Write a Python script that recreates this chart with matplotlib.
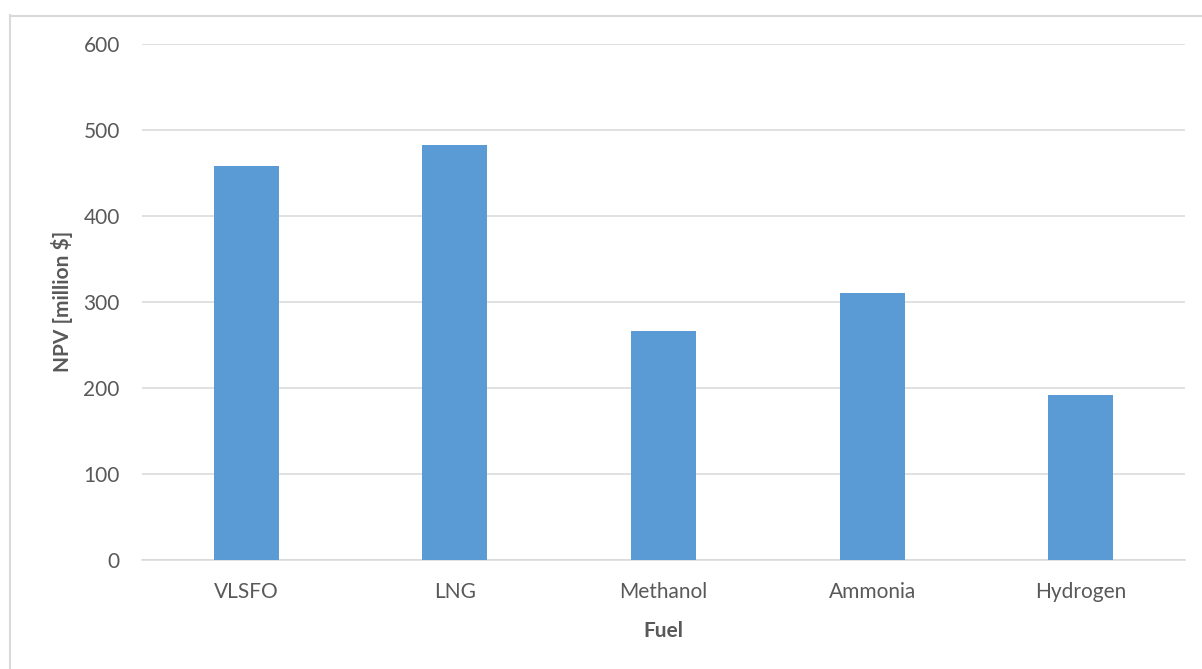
import matplotlib.pyplot as plt
from matplotlib.lines import Line2D

fuels = ["VLSFO", "LNG", "Methanol", "Ammonia", "Hydrogen"]
npv = [458, 482, 266, 310, 191]
yticks = [0, 100, 200, 300, 400, 500, 600]

plt.rcParams['font.family'] = ['Lato', 'DejaVu Sans']

W, H = 1202, 669
fig = plt.figure(figsize=(W / 100, H / 100), dpi=100)

# chart frame, only top and left edges show
grey = "#d9d9d9"
fig.add_artist(Line2D([10.5 / W, 10.5 / W], [0, 1 - 15 / H], color=grey, lw=1.5))
fig.add_artist(Line2D([10 / W, 1], [1 - 15.5 / H, 1 - 15.5 / H], color=grey, lw=1.5))

ax = fig.add_axes([142 / W, 1 - 559.5 / H, (1185 - 142) / W, (559.5 - 44) / H])
ax.bar(range(len(fuels)), npv, width=0.312, color="#5b9bd5", zorder=3)

ax.set_xlim(-0.5, len(fuels) - 0.5)
ax.set_ylim(0, 600)
ax.set_yticks(yticks)
ax.set_xticks(range(len(fuels)))
ax.set_xticklabels(fuels)
ax.grid(axis="y", color=grey, lw=1.1, zorder=0)
for s in ["top", "right", "left"]:
    ax.spines[s].set_visible(False)
ax.spines["bottom"].set_color(grey)
ax.spines["bottom"].set_linewidth(1.1)

txt = "#595959"
fs = 15
ax.tick_params(axis="both", length=0, labelsize=fs, labelcolor=txt)
ax.tick_params(axis="y", pad=16)
ax.tick_params(axis="x", pad=16)

ax.set_ylabel("NPV [million $]", fontsize=fs, fontweight="bold", color=txt)
ax.set_xlabel("Fuel", fontsize=fs, fontweight="bold", color=txt)
ax.yaxis.set_label_coords(-0.0767, 0.5)
ax.xaxis.set_label_coords(0.5, -0.139)
ax.yaxis.label.set_va("center")
ax.xaxis.label.set_va("center")

fig.savefig("out.png", dpi=100)
